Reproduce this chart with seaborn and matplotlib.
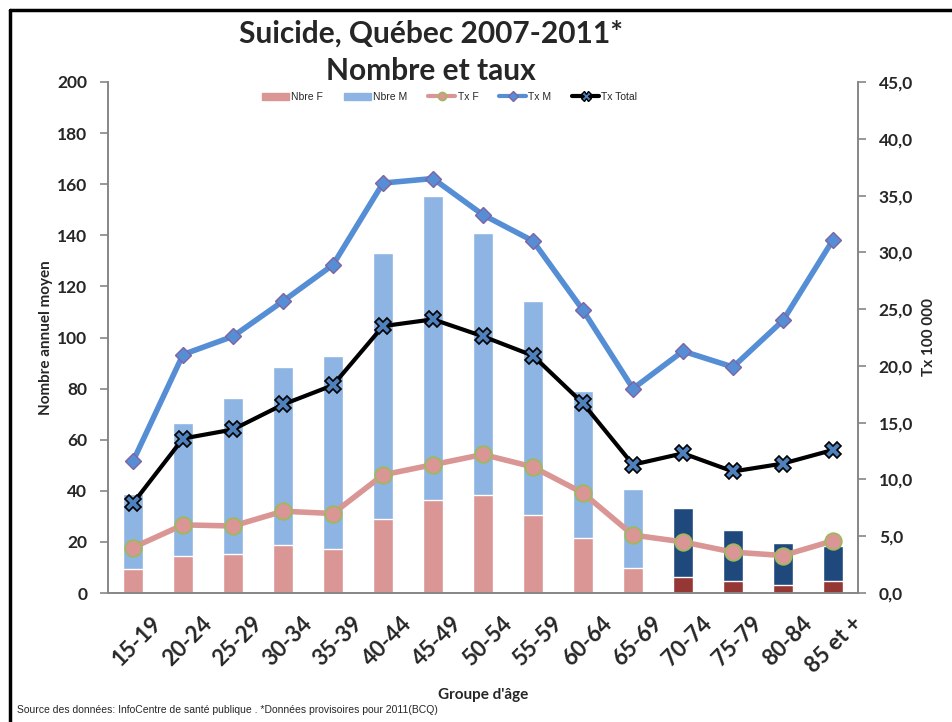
import matplotlib
matplotlib.use("Agg")
import matplotlib.pyplot as plt
import seaborn as sns
import numpy as np
from matplotlib.lines import Line2D
from matplotlib.patches import Patch

# Values
age_groups = ["15-19", "20-24", "25-29", "30-34", "35-39", "40-44", "45-49", "50-54",
              "55-59", "60-64", "65-69", "70-74", "75-79", "80-84", "85 et +"]
nbre_f = [9.4, 14.5, 15.3, 18.8, 17.2, 29.0, 36.4, 38.4, 30.5, 21.5, 9.8, 6.3, 4.7, 3.1, 4.7]
nbre_m = [29.3, 52.0, 61.0, 69.7, 75.6, 104.0, 119.0, 102.6, 83.8, 57.5, 30.9, 27.0, 20.0, 16.5, 13.7]
tx_f = [4.0, 6.0, 5.9, 7.2, 7.0, 10.4, 11.3, 12.2, 11.1, 8.8, 5.1, 4.5, 3.6, 3.3, 4.6]
tx_m = [11.6, 21.0, 22.6, 25.7, 28.9, 36.1, 36.5, 33.3, 31.0, 24.9, 18.0, 21.3, 19.9, 24.0, 31.1]
tx_total = [7.9, 13.6, 14.4, 16.6, 18.3, 23.5, 24.1, 22.6, 20.9, 16.7, 11.3, 12.3, 10.7, 11.4, 12.6]

m_colors = ["#8DB4E2"] * 11 + ["#1F497D"] * 4
f_colors = ["#D99694"] * 11 + ["#953735"] * 4

sns.set_theme(style="white")
plt.rcParams["font.family"] = ["Lato", "DejaVu Sans"]

fig = plt.figure(figsize=(9.53, 7.22), dpi=100)
ax = fig.add_axes([108 / 953, 1 - 593 / 722, 750 / 953, 511 / 722])

# stacked bars: total (F + M) first, then F over it
sns.barplot(x=age_groups, y=np.add(nbre_f, nbre_m), hue=age_groups, palette=m_colors,
            legend=False, width=0.4, saturation=1, order=age_groups, ax=ax)
sns.barplot(x=age_groups, y=nbre_f, hue=age_groups, palette=f_colors,
            legend=False, width=0.4, saturation=1, order=age_groups, ax=ax)

ax.set_xlim(-0.5, 14.5)
ax.set_ylim(0, 200)
ax.set_yticks(np.arange(0, 201, 20))
ax.set_yticklabels([str(v) for v in range(0, 201, 20)], fontsize=12.5, fontweight="bold")
# labels anchored a bit right of the bar centre, like the original diagonal labels
xpos = np.arange(len(age_groups))
ax.set_xticks(xpos + 0.36)
ax.set_xticklabels(age_groups, rotation=45, ha="right", rotation_mode="anchor",
                   fontsize=16, fontweight="bold")
ax.set_xticks(np.arange(-0.5, 15, 1), minor=True)
ax.tick_params(axis="x", which="major", length=0, pad=14)
ax.tick_params(axis="x", which="minor", length=6, color="#868686", width=1.2)
ax.tick_params(axis="y", length=6, color="#868686", width=1.2, pad=9, left=True)
ax.set_xlabel("Groupe d'âge", fontsize=11, fontweight="bold", labelpad=8)
ax.set_ylabel("Nombre annuel moyen", fontsize=11, fontweight="bold", labelpad=3)

# rates on the right axis
ax2 = ax.twinx()
sns.lineplot(x=xpos, y=tx_f, color="#D99694", lw=4, marker="o", ms=12,
             mfc="#D99694", mec="#9BBB59", mew=1.2, ax=ax2)
sns.lineplot(x=xpos, y=tx_m, color="#558ED5", lw=4, marker="D", ms=8,
             mfc="#558ED5", mec="#8064A2", mew=1.0, ax=ax2)
sns.lineplot(x=xpos, y=tx_total, color="black", lw=3, marker="X", ms=11,
             mfc="#4F81BD", mec="black", mew=1.2, ax=ax2)
ax2.set_xlim(-0.5, 14.5)
ax2.set_ylim(0, 45)
ax2.set_yticks(np.arange(0, 46, 5))
ax2.set_yticklabels([f"{v:.1f}".replace(".", ",") for v in range(0, 46, 5)],
                    fontsize=12.5, fontweight="bold")
ax2.tick_params(axis="y", length=6, color="#868686", width=1.2, pad=9, right=True)
ax2.set_ylabel("Tx 100 000", fontsize=11, fontweight="bold", labelpad=6)

for a in (ax, ax2):
    a.spines["top"].set_visible(False)
    for s in ("left", "right", "bottom"):
        a.spines[s].set_color("#868686")
        a.spines[s].set_linewidth(1.2)
    a.grid(False)

# legend
handles = [
    Patch(color="#D99694", label="Nbre F"),
    Patch(color="#8DB4E2", label="Nbre M"),
    Line2D([], [], color="#D99694", lw=3, marker="o", ms=6, mfc="#D99694", mec="#9BBB59", label="Tx F"),
    Line2D([], [], color="#558ED5", lw=3, marker="D", ms=5, mfc="#558ED5", mec="#8064A2", label="Tx M"),
    Line2D([], [], color="black", lw=3, marker="X", ms=7, mfc="#4F81BD", mec="black", label="Tx Total"),
]
fig.legend(handles=handles, loc="center", bbox_to_anchor=(0.472, 1 - 97 / 722), ncol=5,
           frameon=False, handlelength=2.6, handleheight=0.7,
           columnspacing=2.0, handletextpad=0.2,
           prop={"family": ["Liberation Sans", "DejaVu Sans"], "size": 7.5})

# titles
fig.text(431 / 953, 1 - 34 / 722, "Suicide, Québec 2007-2011*", ha="center", va="center",
         fontsize=21.5, fontweight="bold")
fig.text(431 / 953, 1 - 71 / 722, "Nombre et taux", ha="center", va="center",
         fontsize=21.5, fontweight="bold")
fig.text(17 / 953, 1 - 710 / 722,
         "Source des données: InfoCentre de santé publique . *Données provisoires pour 2011(BCQ)",
         ha="left", va="center", fontsize=7.5, family=["Liberation Sans", "DejaVu Sans"])

# outer frame (left and top edges visible)
fig.add_artist(Line2D([10 / 953, 10 / 953], [0, 1 - 10 / 722], color="black", lw=2.5,
                      transform=fig.transFigure))
fig.add_artist(Line2D([10 / 953, 1], [1 - 10 / 722, 1 - 10 / 722], color="black", lw=2.5,
                      transform=fig.transFigure))

fig.savefig("out.png", dpi=100)
